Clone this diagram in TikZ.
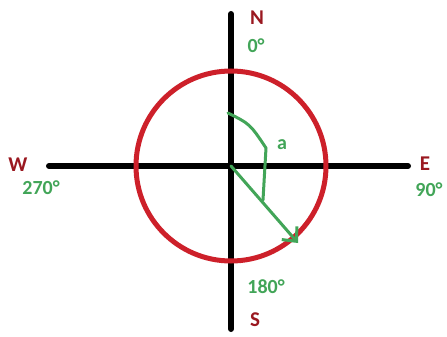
\documentclass[tikz,border=0pt]{standalone}
\usepackage{fontspec}
\setmainfont{Carlito}
\usetikzlibrary{arrows.meta}
\definecolor{compred}{RGB}{205,32,42}
\definecolor{compgreen}{RGB}{66,165,88}
\tikzset{
  axis/.style={line width=6pt, line cap=round, black},
  ring/.style={line width=5pt, compred},
  dirlbl/.style={text=compred!75!black, font=\fontsize{21}{21}\selectfont\bfseries},
  deglbl/.style={text=compgreen, font=\fontsize{20}{20}\selectfont\bfseries},
  bearing/.style={line width=3pt, compgreen, line cap=round, line join=round}
}
\begin{document}
\begin{tikzpicture}[x=1pt,y=-1pt]
  \useasboundingbox (0,0) rectangle (447,337);
  % axes
  \coordinate (O) at (231,166);
  \coordinate (top) at (231,14);
  \coordinate (bot) at (231,329);
  \coordinate (lft) at (49,166);
  \coordinate (rgt) at (408,166);
  \draw[axis] (top) -- (bot);
  \draw[axis] (lft) -- (rgt);

  % compass ring
  \draw[ring] (O) circle[radius=95];

  % labels
  \node[dirlbl] (N) at (257,18) {N};
  \node[deglbl] (deg0) at (256,46) {0°};
  \node[dirlbl] (W) at (18,165) {W};
  \node[deglbl] (deg270) at (41,188) {270°};
  \node[dirlbl] (E) at (425,164) {E};
  \node[deglbl] (deg90) at (429,190) {90°};
  \node[deglbl] (deg180) at (266,287) {180°};
  \node[dirlbl] (S) at (255,320) {S};
  \node[deglbl] (a) at (282,145) {a};

  % angle and bearing
  \coordinate (arcA) at (228,113);
  \coordinate (arcB) at (266,148);
  \coordinate (arcC) at (263,200);
  \coordinate (tip) at (298,243);
  \draw[bearing] (arcA) .. controls (250,124) .. (arcB) -- (arcC);
  \draw[bearing, -{Straight Barb[length=11pt,width=20pt]}] (O) -- (tip);
\end{tikzpicture}
\end{document}
